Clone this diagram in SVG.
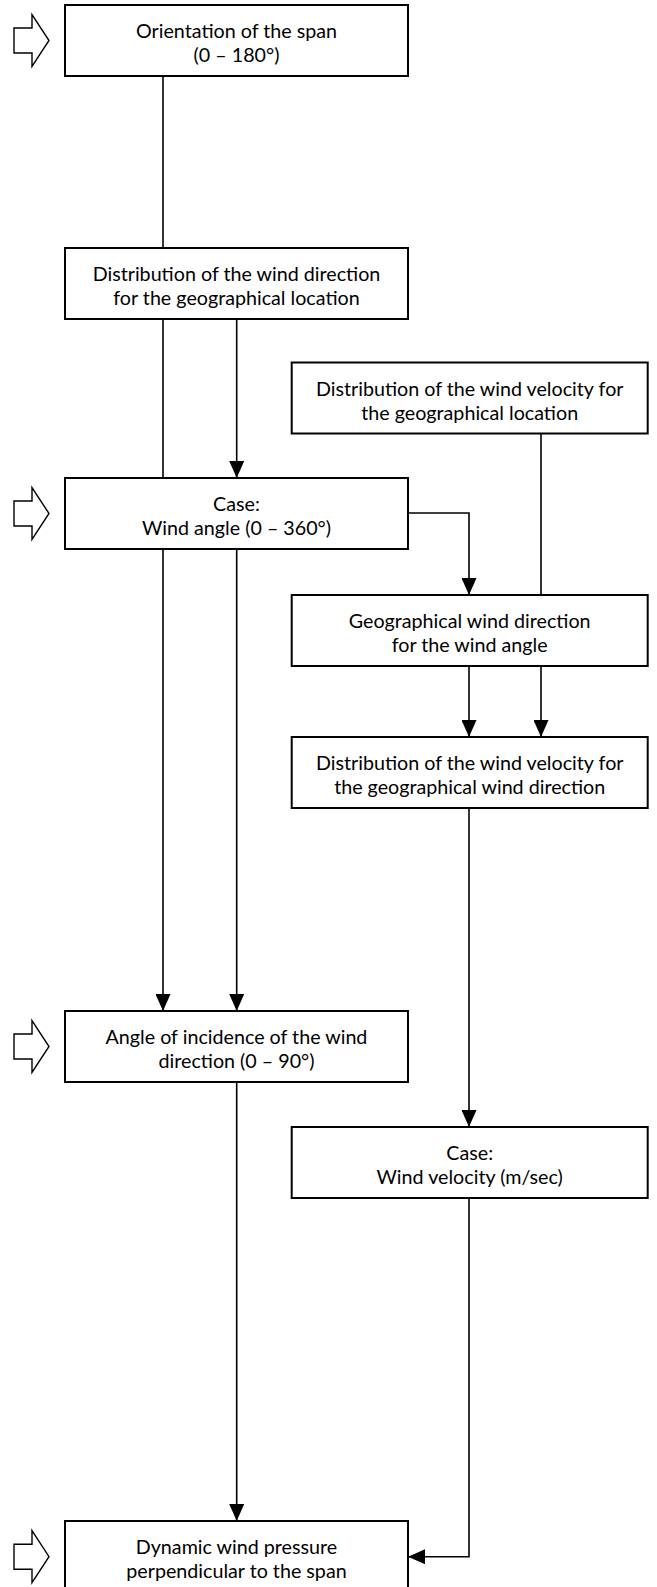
<svg xmlns="http://www.w3.org/2000/svg" width="657" height="1587" viewBox="0 0 657 1587">
  <style>
    .box { fill: #ffffff; stroke: #000000; stroke-width: 2; }
    .lbl { font-family: Lato, "Open Sans", "Liberation Sans", sans-serif; font-size: 19.7px; fill: #000000; text-anchor: middle; }
    .wire { fill: none; stroke: #000000; stroke-width: 1.6; }
    .input { fill: #ffffff; stroke: #000000; stroke-width: 1.4; stroke-linejoin: miter; }
  </style>
  <defs>
    <marker id="head" markerUnits="userSpaceOnUse" markerWidth="17" markerHeight="15" refX="17" refY="7.5" orient="auto">
      <path d="M0,0 L17,7.5 L0,15 Z" fill="#000000"/>
    </marker>
    <!-- hollow block arrow used for external inputs; tip at (0,0) -->
    <path id="inArrow" d="M-35,-12.5 L-17,-12.5 L-17,-26 L0,0 L-17,26 L-17,12.5 L-35,12.5 Z"/>
  </defs>

  <g id="connectors">
    <path class="wire" d="M163,76 V248"/>
    <path class="wire" d="M163,319 V478"/>
    <path class="wire" d="M236.7,319 V478" marker-end="url(#head)"/>
    <path class="wire" d="M541,433 V595"/>
    <path class="wire" d="M408,513 H469 V595" marker-end="url(#head)"/>
    <path class="wire" d="M469,666 V737" marker-end="url(#head)"/>
    <path class="wire" d="M541,666 V737" marker-end="url(#head)"/>
    <path class="wire" d="M163,549 V1011" marker-end="url(#head)"/>
    <path class="wire" d="M236.7,549 V1011" marker-end="url(#head)"/>
    <path class="wire" d="M469,808 V1127" marker-end="url(#head)"/>
    <path class="wire" d="M236.7,1082 V1521" marker-end="url(#head)"/>
    <path class="wire" d="M469,1198 V1556.7 H408" marker-end="url(#head)"/>
  </g>

  <g id="inputs">
    <use href="#inArrow" class="input" x="49" y="40.5"/>
    <use href="#inArrow" class="input" x="49" y="513.5"/>
    <use href="#inArrow" class="input" x="49" y="1046.5"/>
    <use href="#inArrow" class="input" x="49" y="1556.7"/>
  </g>

  <g id="orientation">
    <rect class="box" x="65" y="5" width="343" height="71"/>
    <text class="lbl" x="236.5" y="38">Orientation of the span</text>
    <text class="lbl" x="236.5" y="62">(0 – 180°)</text>
  </g>

  <g id="direction-distribution">
    <rect class="box" x="65" y="248" width="343" height="71"/>
    <text class="lbl" x="236.5" y="281">Distribution of the wind direction</text>
    <text class="lbl" x="236.5" y="305">for the geographical location</text>
  </g>

  <g id="velocity-distribution">
    <rect class="box" x="291.7" y="362.5" width="356" height="71"/>
    <text class="lbl" x="469.7" y="395.5">Distribution of the wind velocity for</text>
    <text class="lbl" x="469.7" y="419.5">the geographical location</text>
  </g>

  <g id="wind-angle-case">
    <rect class="box" x="65" y="478" width="343" height="71"/>
    <text class="lbl" x="236.5" y="511">Case:</text>
    <text class="lbl" x="236.5" y="535">Wind angle (0 – 360°)</text>
  </g>

  <g id="geo-direction">
    <rect class="box" x="291.7" y="595" width="356" height="71"/>
    <text class="lbl" x="469.7" y="628">Geographical wind direction</text>
    <text class="lbl" x="469.7" y="652">for the wind angle</text>
  </g>

  <g id="velocity-by-direction">
    <rect class="box" x="291.7" y="737" width="356" height="71"/>
    <text class="lbl" x="469.7" y="770">Distribution of the wind velocity for</text>
    <text class="lbl" x="469.7" y="794">the geographical wind direction</text>
  </g>

  <g id="incidence-angle">
    <rect class="box" x="65" y="1011" width="343" height="71"/>
    <text class="lbl" x="236.5" y="1044">Angle of incidence of the wind</text>
    <text class="lbl" x="236.5" y="1068">direction (0 – 90°)</text>
  </g>

  <g id="wind-velocity-case">
    <rect class="box" x="291.7" y="1127" width="356" height="71"/>
    <text class="lbl" x="469.7" y="1160">Case:</text>
    <text class="lbl" x="469.7" y="1184">Wind velocity (m/sec)</text>
  </g>

  <g id="dynamic-pressure">
    <rect class="box" x="65" y="1521" width="343" height="71"/>
    <text class="lbl" x="236.5" y="1554">Dynamic wind pressure</text>
    <text class="lbl" x="236.5" y="1578">perpendicular to the span</text>
  </g>
</svg>
